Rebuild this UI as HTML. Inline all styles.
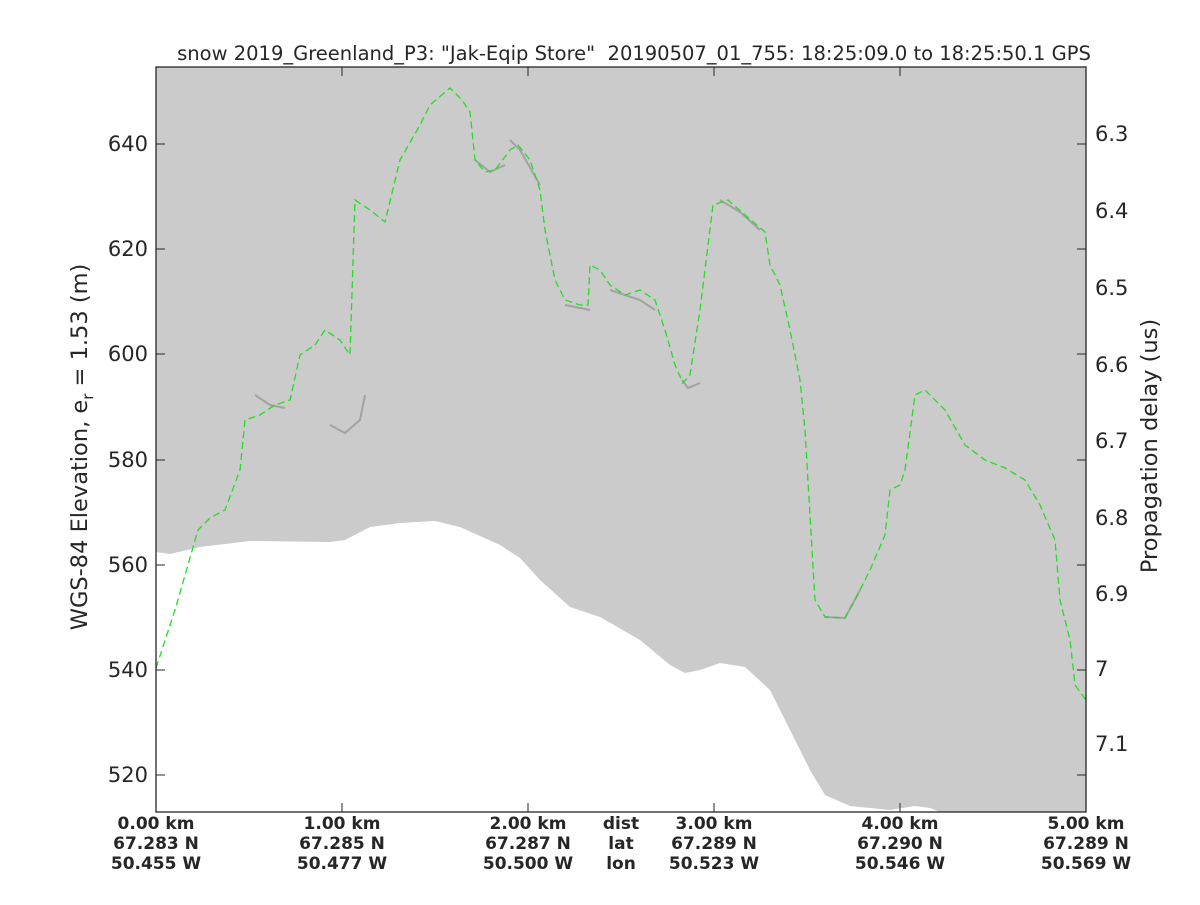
<!DOCTYPE html>
<html><head><meta charset="utf-8"><style>
body{margin:0;background:#fff;}
svg text{font-family:"DejaVu Sans","Liberation Sans",sans-serif;fill:#262626;}
</style></head><body>
<svg width="1200" height="900" viewBox="0 0 1200 900" xmlns="http://www.w3.org/2000/svg">
<rect x="0" y="0" width="1200" height="900" fill="#fff"/>
<rect x="156" y="67" width="930" height="745" fill="#cbcbcb"/>
<path d="M156,552 L170,554 L200,547 L250,541 L330,542 L345,540 L370,527 L400,523 L435,521 L460,527 L500,545 L520,558 L540,580 L570,607 L600,617 L640,640 L670,665 L685,673 L700,670 L720,663 L745,667 L770,690 L790,730 L810,770 L825,795 L850,806 L890,810 L915,806 L930,808 L940,812 L156,812 Z" fill="#fff"/>
<g fill="none" stroke="#555" stroke-opacity="0.35" stroke-width="2">
<path d="M330,425 L345,433 L360,420 L365,395"/>
<path d="M475,160 L490,172 L505,165"/>
<path d="M510,140 L520,150 L540,185"/>
<path d="M700,383 L688,388 L682,380"/>
<path d="M720,200 L740,212 L760,230"/>
<path d="M825,617 L845,618 L860,590"/>
<path d="M565,305 L590,310"/>
<path d="M610,290 L640,300 L655,310"/>
<path d="M255,395 L270,405 L285,408"/>
</g>
<polyline fill="none" stroke="#22dd22" stroke-width="1.3" stroke-dasharray="7,4" points="156,668 175,610 198,530 210,518 225,510 240,470 245,420 260,415 275,405 290,400 300,355 315,345 325,330 340,340 350,355 355,200 370,210 385,222 400,160 420,125 430,105 450,88 462,100 470,112 475,160 485,172 495,170 510,150 518,145 530,160 540,190 545,230 555,280 565,300 580,305 588,305 590,265 600,270 610,285 625,295 640,290 655,300 665,330 675,365 683,383 690,375 700,310 713,205 728,200 745,215 765,232 770,265 780,285 790,330 800,380 805,430 815,600 825,617 845,618 855,600 870,570 885,535 890,490 900,485 905,470 915,395 925,390 945,410 965,445 985,460 1005,468 1025,480 1040,505 1055,540 1060,600 1070,640 1075,685 1086,700"/>
<rect x="156" y="67" width="930" height="745" fill="none" stroke="#262626" stroke-width="1.3"/>
<g stroke="#262626" stroke-width="1">
<line x1="156" y1="144" x2="165" y2="144"/><line x1="156" y1="249" x2="165" y2="249"/><line x1="156" y1="354" x2="165" y2="354"/><line x1="156" y1="460" x2="165" y2="460"/><line x1="156" y1="565" x2="165" y2="565"/><line x1="156" y1="670" x2="165" y2="670"/><line x1="156" y1="775" x2="165" y2="775"/>
<line x1="1077" y1="144" x2="1086" y2="144"/><line x1="1077" y1="249" x2="1086" y2="249"/><line x1="1077" y1="354" x2="1086" y2="354"/><line x1="1077" y1="460" x2="1086" y2="460"/><line x1="1077" y1="565" x2="1086" y2="565"/><line x1="1077" y1="670" x2="1086" y2="670"/><line x1="1077" y1="775" x2="1086" y2="775"/>
<line x1="342" y1="67" x2="342" y2="76"/><line x1="528" y1="67" x2="528" y2="76"/><line x1="714" y1="67" x2="714" y2="76"/><line x1="900" y1="67" x2="900" y2="76"/>
<line x1="342" y1="812" x2="342" y2="803"/><line x1="528" y1="812" x2="528" y2="803"/><line x1="714" y1="812" x2="714" y2="803"/><line x1="900" y1="812" x2="900" y2="803"/>
</g>
<g font-size="21" text-anchor="end">
<text x="148" y="151">640</text><text x="148" y="256">620</text><text x="148" y="361">600</text><text x="148" y="467">580</text><text x="148" y="572">560</text><text x="148" y="677">540</text><text x="148" y="782">520</text>
</g>
<g font-size="21" text-anchor="start">
<text x="1095" y="141">6.3</text><text x="1095" y="218">6.4</text><text x="1095" y="295">6.5</text><text x="1095" y="372">6.6</text><text x="1095" y="448">6.7</text><text x="1095" y="525">6.8</text><text x="1095" y="601">6.9</text><text x="1095" y="676">7</text><text x="1095" y="751">7.1</text>
</g>
<text x="634" y="60" font-size="19.5" text-anchor="middle" xml:space="preserve" style="white-space:pre">snow 2019_Greenland_P3: "Jak-Eqip Store"  20190507_01_755: 18:25:09.0 to 18:25:50.1 GPS</text>
<text transform="translate(87,447) rotate(-90)" font-size="22.5" text-anchor="middle">WGS-84 Elevation, e<tspan font-size="15" dy="6">r</tspan><tspan dy="-6"> = 1.53 (m)</tspan></text>
<text transform="translate(1157,446) rotate(-90)" font-size="22.5" text-anchor="middle">Propagation delay (us)</text>
<g font-size="17" font-weight="bold" text-anchor="middle" fill="#000">
<text x="156" y="829">0.00 km</text><text x="156" y="849">67.283 N</text><text x="156" y="869">50.455 W</text>
<text x="342" y="829">1.00 km</text><text x="342" y="849">67.285 N</text><text x="342" y="869">50.477 W</text>
<text x="528" y="829">2.00 km</text><text x="528" y="849">67.287 N</text><text x="528" y="869">50.500 W</text>
<text x="621" y="829">dist</text><text x="621" y="849">lat</text><text x="621" y="869">lon</text>
<text x="714" y="829">3.00 km</text><text x="714" y="849">67.289 N</text><text x="714" y="869">50.523 W</text>
<text x="900" y="829">4.00 km</text><text x="900" y="849">67.290 N</text><text x="900" y="869">50.546 W</text>
<text x="1086" y="829">5.00 km</text><text x="1086" y="849">67.289 N</text><text x="1086" y="869">50.569 W</text>
</g>
</svg>
</body></html>
